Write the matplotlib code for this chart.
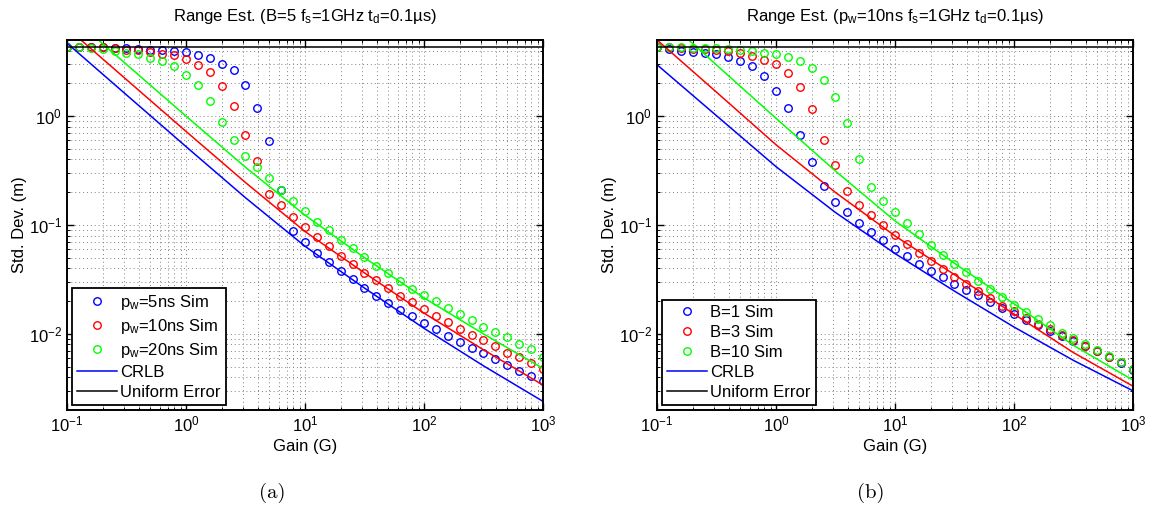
import numpy as np
import matplotlib
matplotlib.use("Agg")
import matplotlib.pyplot as plt
from matplotlib.ticker import LogLocator, NullFormatter

plt.rcParams['font.family'] = ['Liberation Sans', 'DejaVu Sans']
plt.rcParams['mathtext.fontset'] = 'custom'
plt.rcParams['mathtext.rm'] = 'Liberation Sans'
plt.rcParams['mathtext.it'] = 'Liberation Sans:italic'
plt.rcParams['mathtext.bf'] = 'Liberation Sans:bold'
plt.rcParams['font.size'] = 12

# gain grid of the simulations (10 points per decade)
gain = [0.1, 0.126, 0.158, 0.2, 0.251, 0.316, 0.398, 0.501, 0.631, 0.794,
        1, 1.26, 1.58, 2, 2.51, 3.16, 3.98, 5.01, 6.31, 7.94,
        10, 12.6, 15.8, 20, 25.1, 31.6, 39.8, 50.1, 63.1, 79.4,
        100, 126, 158, 200, 251, 316, 398, 501, 631, 794, 1000]

# (a) B=5, pulse widths 5/10/20 ns
sim_pw5 = [4.3, 4.3, 4.3, 4.28, 4.25, 4.2, 4.1, 4.03, 4.01, 3.98,
           3.87, 3.66, 3.43, 3.04, 2.63, 1.94, 1.19, 0.59, 0.21, 0.0887,
           0.0699, 0.0558, 0.0461, 0.0376, 0.032, 0.0266, 0.0225, 0.0194, 0.0166, 0.0146,
           0.0126, 0.011, 0.00966, 0.00845, 0.00745, 0.00661, 0.00586, 0.00513, 0.00458, 0.00409,
           0.00371]
sim_pw10 = [4.3, 4.3, 4.3, 4.28, 4.2, 4.09, 4.01, 3.87, 3.73, 3.61,
            3.36, 2.96, 2.54, 1.91, 1.23, 0.665, 0.384, 0.194, 0.152, 0.119,
            0.0959, 0.0782, 0.0638, 0.052, 0.0436, 0.0363, 0.0311, 0.0262, 0.0223, 0.0195,
            0.0169, 0.0146, 0.0129, 0.0112, 0.00987, 0.00876, 0.0077, 0.0067, 0.00607, 0.00535,
            0.00474]
sim_pw20 = [4.3, 4.3, 4.2, 4.1, 3.93, 3.78, 3.68, 3.43, 3.22, 2.86,
            2.41, 1.94, 1.38, 0.876, 0.603, 0.432, 0.342, 0.268, 0.21, 0.167,
            0.1355, 0.1074, 0.0906, 0.0734, 0.0616, 0.0506, 0.0421, 0.0363, 0.0307, 0.0261,
            0.0227, 0.02, 0.0173, 0.0153, 0.0133, 0.0116, 0.0103, 0.0093, 0.0081, 0.0072,
            0.00615]

# (b) pw=10ns, B=1/3/10
sim_b1 = [4.3, 4.1, 3.95, 3.87, 3.81, 3.68, 3.48, 3.18, 2.88, 2.33,
          1.7, 1.19, 0.675, 0.377, 0.227, 0.161, 0.131, 0.1035, 0.0863, 0.0724,
          0.06, 0.0516, 0.044, 0.0381, 0.0331, 0.029, 0.0255, 0.0226, 0.0196, 0.0173,
          0.0152, 0.01355, 0.012, 0.01066, 0.0096, 0.00857, 0.0077, 0.0069, 0.0061, 0.0054,
          0.0047]
sim_b3 = [4.3, 4.3, 4.2, 4.15, 4.12, 4.05, 3.95, 3.79, 3.55, 3.29,
          2.98, 2.48, 1.86, 1.16, 0.598, 0.358, 0.205, 0.153, 0.1228, 0.0994,
          0.0805, 0.0666, 0.0554, 0.0465, 0.0395, 0.0334, 0.0286, 0.0248, 0.0215, 0.01795,
          0.0162, 0.014, 0.0123, 0.011, 0.00987, 0.00876, 0.0078, 0.0069, 0.0061, 0.0055,
          0.0048]
sim_b10 = [4.3, 4.3, 4.3, 4.25, 4.25, 4.2, 4.1, 4.05, 4.0, 3.79,
           3.68, 3.46, 3.18, 2.76, 2.16, 1.506, 0.869, 0.402, 0.223, 0.165,
           0.1317, 0.1044, 0.0822, 0.0652, 0.0534, 0.0443, 0.0371, 0.0307, 0.0258, 0.0219,
           0.0183, 0.0159, 0.0136, 0.012, 0.0102, 0.0092, 0.0081, 0.0071, 0.0062, 0.0055,
           0.0048]

# CRLB curves, read at half decades
gain_crlb = [0.1, 0.316, 1, 3.16, 10, 31.6, 100, 316, 1000]
crlb_pw5 = [4.68, 1.567, 0.525, 0.178, 0.0638, 0.02636, 0.01125, 0.00509, 0.0024]
crlb_pw10 = [6.46, 2.163, 0.724, 0.2455, 0.0871, 0.0363, 0.0155, 0.00715, 0.00339]
crlb_pw20 = [8.91, 2.985, 1.0, 0.339, 0.123, 0.0501, 0.0214, 0.01, 0.00482]
crlb_b1 = [2.965, 1.009, 0.3436, 0.1303, 0.0547, 0.0247, 0.01156, 0.00571, 0.003]
crlb_b3 = [5.01, 1.66, 0.546, 0.199, 0.0794, 0.035, 0.0152, 0.00673, 0.00331]
crlb_b10 = [9.12, 2.95, 0.955, 0.313, 0.109, 0.0445, 0.0189, 0.00785, 0.00376]

uniform_err = 4.33

colors = ['#0000ff', '#ff0000', '#00ff00']

fig = plt.figure(figsize=(11.56, 5.08), dpi=100)
ax_a = fig.add_axes([67 / 1156, 98 / 508, 476 / 1156, 370 / 508])
ax_b = fig.add_axes([657 / 1156, 98 / 508, 476 / 1156, 370 / 508])


def draw_panel(ax, sims, sim_labels, crlbs, title):
    handles = []
    for vals, lab, c in zip(sims, sim_labels, colors):
        h, = ax.plot(gain, vals, 'o', mfc='none', mec=c, ms=5.4, mew=1.0, label=lab)
        handles.append(h)
    for k, (vals, c) in enumerate(zip(crlbs, colors)):
        h, = ax.plot(gain_crlb, vals, '-', color=c, lw=1.1)
        if k == 0:
            h.set_label('CRLB')
            handles.append(h)
    h, = ax.plot([gain[0], gain[-1]], [uniform_err, uniform_err], '-', color='k', lw=1.1,
                 label='Uniform Error')
    handles.append(h)

    ax.set_xscale('log')
    ax.set_yscale('log')
    ax.set_xlim(0.1, 1000)
    ax.set_ylim(0.002, 5)
    ax.xaxis.set_major_locator(LogLocator(base=10, numticks=10))
    ax.xaxis.set_minor_locator(LogLocator(base=10, subs=np.arange(2, 10), numticks=20))
    ax.yaxis.set_minor_locator(LogLocator(base=10, subs=np.arange(2, 10), numticks=20))
    ax.xaxis.set_minor_formatter(NullFormatter())
    ax.yaxis.set_minor_formatter(NullFormatter())
    ax.grid(True, which='both', linestyle=(0, (1, 3)), color='0.5', lw=0.7)
    ax.tick_params(which='both', direction='in', top=True, right=True)
    ax.tick_params(which='major', length=5, width=1.0)
    ax.tick_params(which='minor', length=2.5, width=0.7)
    for s in ax.spines.values():
        s.set_linewidth(1.4)
    ax.set_title(title, fontsize=12, pad=14)
    ax.set_xlabel('Gain (G)', labelpad=3)
    ax.set_ylabel('Std. Dev. (m)', labelpad=1)

    leg = ax.legend(handles=handles, loc='lower left', fancybox=False, framealpha=1,
                    edgecolor='k', handlelength=2.4, handletextpad=0.2,
                    labelspacing=0.3, borderpad=0.3, borderaxespad=0.3)
    leg.get_frame().set_linewidth(1.3)


draw_panel(ax_a, [sim_pw5, sim_pw10, sim_pw20],
           [r'p$_\mathregular{w}$=5ns Sim', r'p$_\mathregular{w}$=10ns Sim',
            r'p$_\mathregular{w}$=20ns Sim'],
           [crlb_pw5, crlb_pw10, crlb_pw20],
           r'Range Est. (B=5 f$_\mathregular{s}$=1GHz t$_\mathregular{d}$=0.1µs)')
draw_panel(ax_b, [sim_b1, sim_b3, sim_b10],
           ['B=1 Sim', 'B=3 Sim', 'B=10 Sim'],
           [crlb_b1, crlb_b3, crlb_b10],
           r'Range Est. (p$_\mathregular{w}$=10ns f$_\mathregular{s}$=1GHz t$_\mathregular{d}$=0.1µs)')

fig.text(272 / 1156, 1 - 493 / 508, '(a)', family=['cmr10', 'DejaVu Serif'], fontsize=15,
         ha='center', va='center')
fig.text(871 / 1156, 1 - 493 / 508, '(b)', family=['cmr10', 'DejaVu Serif'], fontsize=15,
         ha='center', va='center')

fig.savefig('out.png', dpi=100)
